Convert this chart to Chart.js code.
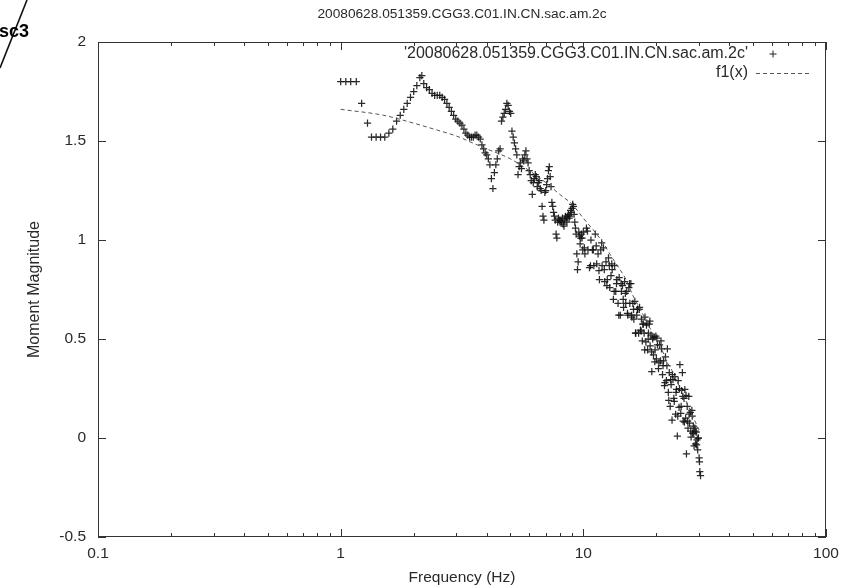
<!DOCTYPE html>
<html>
<head>
<meta charset="utf-8">
<script src="https://cdn.jsdelivr.net/npm/chart.js@4.4.0/dist/chart.umd.min.js"></script>
<style>
html, body { margin: 0; padding: 0; background: #fff; }
</style>
</head>
<body>
<canvas id="myChart" width="863" height="587"></canvas>
<script>
var chartTitle = '20080628.051359.CGG3.C01.IN.CN.sac.am.2c';
var seriesLabels = ["'20080628.051359.CGG3.C01.IN.CN.sac.am.2c'", 'f1(x)'];
var xTitle = 'Frequency (Hz)';
var yTitle = 'Moment Magnitude';
var xTickValues = [0.1, 1, 10, 100];
var yTickValues = [-0.5, 0, 0.5, 1, 1.5, 2];

// measured spectrum (Hz, Mw)
var freq = [
	1.00, 1.05, 1.10, 1.16, 1.22, 1.29, 1.34, 1.40, 1.46, 1.52,
	1.58, 1.64, 1.70, 1.76, 1.82, 1.88, 1.94, 2.00, 2.06, 2.12,
	2.16, 2.20, 2.26, 2.32, 2.38, 2.44, 2.50, 2.56, 2.62, 2.68,
	2.74, 2.80, 2.86, 2.92, 2.98, 3.04, 3.10, 3.16, 3.22, 3.28,
	3.34, 3.40, 3.46, 3.52, 3.58, 3.64, 3.70, 3.76, 3.82, 3.88,
	3.94, 4.00, 4.06, 4.12, 4.18, 4.24, 4.30, 4.36, 4.42, 4.48,
	4.54, 4.60, 4.66, 4.72, 4.78, 4.84, 4.90, 4.96, 5.02, 5.08,
	5.14, 5.20, 5.26, 5.32, 5.38, 5.44, 5.50, 5.56, 5.62, 5.68,
	5.74, 5.80, 5.86, 5.92, 5.98, 6.04, 6.10, 6.16, 6.22, 6.28,
	6.34, 6.40, 6.46, 6.52, 6.58, 6.64, 6.70, 6.76, 6.82, 6.88,
	6.94, 7.00, 7.06, 7.12, 7.18, 7.24, 7.30, 7.36, 7.42, 7.48,
	7.54, 7.60, 7.66, 7.72, 7.78, 7.84, 7.90, 7.96, 8.02, 8.08,
	8.14, 8.20, 8.26, 8.32, 8.38, 8.44, 8.50, 8.56, 8.62, 8.68,
	8.74, 8.80, 8.86, 8.92, 8.98, 9.04, 9.10, 9.16, 9.22, 9.28,
	9.34, 9.40, 9.46, 9.52, 9.58, 9.64, 9.70, 9.76, 9.82, 9.88,
	9.94, 10.00, 10.15, 10.30, 10.45, 10.60, 10.75, 10.90, 11.05, 11.20,
	11.35, 11.50, 11.65, 11.80, 11.95, 12.10, 12.25, 12.40, 12.55, 12.70,
	12.85, 13.00, 13.15, 13.30, 13.45, 13.60, 13.75, 13.90, 14.05, 14.20,
	14.35, 14.50, 14.65, 14.80, 14.95, 15.10, 15.25, 15.40, 15.55, 15.70,
	15.85, 16.00, 16.15, 16.30, 16.45, 16.60, 16.75, 16.90, 17.05, 17.20,
	17.35, 17.50, 17.65, 17.80, 17.95, 18.10, 18.25, 18.40, 18.55, 18.70,
	18.85, 19.00, 19.15, 19.30, 19.45, 19.60, 19.75, 19.90, 20.00, 20.20,
	20.40, 20.60, 20.80, 21.00, 21.20, 21.40, 21.60, 21.80, 22.00, 22.20,
	22.40, 22.60, 22.80, 23.00, 23.20, 23.40, 23.60, 23.80, 24.00, 24.20,
	24.40, 24.60, 24.80, 25.00, 25.20, 25.40, 25.60, 25.80, 26.00, 26.20,
	26.40, 26.60, 26.80, 27.00, 27.20, 27.40, 27.60, 27.80, 28.00, 28.20,
	28.40, 28.60, 28.80, 29.00, 29.20, 29.40, 29.60, 29.80, 30.00, 30.20,
	30.40,
	10.1, 10.4, 10.7, 11.0, 11.3, 11.6, 11.9, 12.2, 12.5, 12.8,
	13.1, 13.4, 13.7, 14.0, 14.3, 14.6, 14.9, 15.2, 15.5, 15.8,
	16.1, 16.4, 16.7, 17.0, 17.3, 17.6, 17.9, 18.2, 18.5, 18.8,
	19.1, 19.4, 19.7, 20.1, 20.5, 20.9, 21.3, 21.7, 22.1, 22.5,
	22.9, 23.3, 23.7, 24.1, 24.5, 24.9, 25.3, 25.7, 26.1, 26.5,
	26.9, 27.3, 27.7, 28.1, 28.5, 28.9, 29.3, 29.7, 30.1
];
var mag = [
	1.80, 1.80, 1.80, 1.80, 1.69, 1.59, 1.52, 1.52, 1.52, 1.52,
	1.54, 1.56, 1.60, 1.63, 1.66, 1.69, 1.72, 1.75, 1.78, 1.82,
	1.83, 1.79, 1.77, 1.76, 1.74, 1.73, 1.73, 1.73, 1.72, 1.71,
	1.69, 1.67, 1.65, 1.63, 1.61, 1.60, 1.59, 1.58, 1.56, 1.54,
	1.53, 1.52, 1.52, 1.52, 1.53, 1.53, 1.52, 1.51, 1.48, 1.46,
	1.44, 1.43, 1.41, 1.38, 1.31, 1.26, 1.34, 1.38, 1.41, 1.45,
	1.46, 1.60, 1.62, 1.64, 1.66, 1.69, 1.68, 1.65, 1.64, 1.55,
	1.52, 1.49, 1.46, 1.43, 1.33, 1.37, 1.39, 1.36, 1.41, 1.40,
	1.43, 1.45, 1.41, 1.39, 1.35, 1.33, 1.30, 1.23, 1.29, 1.31,
	1.33, 1.32, 1.27, 1.29, 1.30, 1.26, 1.25, 1.17, 1.12, 1.10,
	1.24, 1.25, 1.28, 1.31, 1.35, 1.37, 1.32, 1.27, 1.19, 1.17,
	1.14, 1.12, 1.10, 1.03, 1.01, 1.09, 1.11, 1.10, 1.09, 1.10,
	1.09, 1.11, 1.08, 1.07, 1.10, 1.12, 1.11, 1.09, 1.12, 1.13,
	1.11, 1.12, 1.15, 1.14, 1.16, 1.18, 1.17, 1.13, 1.09, 1.06,
	1.03, 0.93, 0.85, 0.89, 1.04, 1.02, 0.98, 1.01, 1.03, 1.01,
	0.95, 1.04, 0.93, 1.06, 0.95, 0.86, 1.00, 0.95, 0.87, 1.03,
	0.88, 0.93, 0.80, 0.95, 0.87, 0.96, 0.79, 0.89, 0.80, 0.91,
	0.76, 0.82, 0.85, 0.70, 0.87, 0.74, 0.80, 0.68, 0.81, 0.62,
	0.74, 0.77, 0.66, 0.79, 0.68, 0.74, 0.62, 0.76, 0.68, 0.78,
	0.61, 0.68, 0.60, 0.69, 0.53, 0.62, 0.65, 0.53, 0.66, 0.545,
	0.60, 0.49, 0.575, 0.53, 0.61, 0.485, 0.58, 0.445, 0.53, 0.575,
	0.465, 0.52, 0.335, 0.50, 0.42, 0.51, 0.445, 0.515, 0.40, 0.47,
	0.35, 0.47, 0.39, 0.45, 0.32, 0.39, 0.265, 0.41, 0.29, 0.45,
	0.23, 0.33, 0.16, 0.27, 0.09, 0.295, 0.20, 0.31, 0.12, 0.245,
	0.01, 0.29, 0.155, 0.37, 0.125, 0.24, 0.33, 0.085, 0.20, 0.245,
	0.10, -0.08, 0.16, 0.05, 0.21, 0.075, 0.13, 0.005, 0.14, 0.025,
	0.06, -0.04, 0.05, -0.03, 0.03, -0.01, -0.06, 0.00, -0.10, -0.17,
	-0.19,
	0.96, 1.045, 0.87, 0.95, 0.97, 0.845, 0.985, 0.85, 0.77, 0.87,
	0.88, 0.74, 0.78, 0.62, 0.78, 0.70, 0.73, 0.63, 0.78, 0.62,
	0.65, 0.53, 0.65, 0.65, 0.54, 0.575, 0.445, 0.57, 0.50, 0.59,
	0.435, 0.51, 0.385, 0.505, 0.38, 0.49, 0.365, 0.28, 0.365, 0.19,
	0.295, 0.32, 0.185, 0.23, 0.11, 0.25, 0.16, 0.21, 0.08, 0.215,
	0.085, 0.12, 0.035, 0.11, 0.025, 0.035, -0.035, 0.00, -0.12
];

// fitted model f1(x)
var fitFreq = [1, 1.5, 2, 2.5, 3, 3.5, 4, 5, 6, 7, 8, 9, 10, 11, 12, 13, 14, 15, 16, 17, 18, 19, 20, 21, 22, 23, 24, 26, 28, 30];
var fitMag  = [1.66, 1.63, 1.59, 1.555, 1.525, 1.49, 1.46, 1.41, 1.35, 1.29, 1.23, 1.18, 1.11, 1.05, 0.99, 0.92, 0.86, 0.80, 0.72, 0.66, 0.60, 0.545, 0.49, 0.45, 0.39, 0.35, 0.30, 0.21, 0.12, 0.04];

var txtColor = '#2a2a2a';
var fontName = '"Liberation Sans", Arial, sans-serif';

// gnuplot style frame with inward ticks on all sides
var framePlugin = {
	id: 'frame',
	afterDatasetsDraw: function(chart) {
		var ctx = chart.ctx;
		var a = chart.chartArea;
		var xs = chart.scales.x, ys = chart.scales.y;
		ctx.save();
		ctx.strokeStyle = '#333';
		ctx.lineWidth = 1;
		ctx.strokeRect(a.left + 0.5, a.top + 0.5, a.right - a.left - 1, a.bottom - a.top - 1);
		ctx.beginPath();
		for (var d = 0; d < xTickValues.length; d++) {
			var dec = xTickValues[d];
			var px = Math.round(xs.getPixelForValue(dec)) + 0.5;
			ctx.moveTo(px, a.bottom); ctx.lineTo(px, a.bottom - 8);
			ctx.moveTo(px, a.top); ctx.lineTo(px, a.top + 8);
			if (d < xTickValues.length - 1) {
				for (var k = 2; k <= 9; k++) {
					var mx = Math.round(xs.getPixelForValue(dec * k)) + 0.5;
					ctx.moveTo(mx, a.bottom); ctx.lineTo(mx, a.bottom - 4);
					ctx.moveTo(mx, a.top); ctx.lineTo(mx, a.top + 4);
				}
			}
		}
		yTickValues.forEach(function(v) {
			var py = Math.round(ys.getPixelForValue(v)) + 0.5;
			ctx.moveTo(a.left, py); ctx.lineTo(a.left + 8, py);
			ctx.moveTo(a.right, py); ctx.lineTo(a.right - 8, py);
		});
		ctx.stroke();

		// key, top right, gnuplot style
		ctx.fillStyle = txtColor;
		ctx.font = '16px ' + fontName;
		ctx.textAlign = 'right';
		ctx.textBaseline = 'middle';
		ctx.fillText(seriesLabels[0], 748, 54);
		ctx.fillText(seriesLabels[1], 748, 73);
		ctx.strokeStyle = '#222';
		Chart.helpers.drawPoint(ctx, {pointStyle: 'cross', radius: 3.5, borderWidth: 1}, 773, 54);
		ctx.strokeStyle = '#555';
		ctx.setLineDash([4, 3]);
		ctx.beginPath();
		ctx.moveTo(756, 73.5); ctx.lineTo(812, 73.5);
		ctx.stroke();
		ctx.setLineDash([]);

		// stray stamp in the top left corner of the original
		ctx.strokeStyle = '#111';
		ctx.lineWidth = 1.6;
		ctx.beginPath();
		ctx.moveTo(27, 0); ctx.lineTo(0, 68);
		ctx.stroke();
		ctx.fillStyle = '#000';
		ctx.font = 'bold 18px ' + fontName;
		ctx.textAlign = 'left';
		ctx.fillText('sc3', -1, 32);
		ctx.restore();
	}
};

var points = freq.map(function(f, i) { return {x: f, y: mag[i]}; });
var fitPoints = fitFreq.map(function(f, i) { return {x: f, y: fitMag[i]}; });

var myChart = new Chart('myChart', {
	type: 'scatter',
	data: {
		datasets: [
			{
				label: seriesLabels[0],
				data: points,
				pointStyle: 'cross',
				pointRadius: 3.6,
				pointBorderWidth: 1.25,
				borderColor: 'rgba(20,20,20,0.9)',
				backgroundColor: 'rgba(20,20,20,0.9)',
				order: 2
			},
			{
				type: 'line',
				label: seriesLabels[1],
				data: fitPoints,
				showLine: true,
				pointRadius: 0,
				borderColor: '#555',
				borderWidth: 1,
				borderDash: [4, 3],
				cubicInterpolationMode: 'monotone',
				fill: false,
				order: 1
			}
		]
	},
	options: {
		responsive: false,
		animation: false,
		devicePixelRatio: 1,
		layout: { padding: { left: 0, right: 37, top: 0, bottom: 0 } },
		plugins: {
			legend: { display: false },
			tooltip: { enabled: false },
			title: {
				display: true,
				fullSize: false,
				text: chartTitle,
				color: txtColor,
				font: { family: fontName, size: 13.7, weight: 'normal' },
				padding: { top: 6, bottom: 19.56 }
			}
		},
		scales: {
			x: {
				type: 'logarithmic',
				min: 0.1,
				max: 100,
				afterBuildTicks: function(s) { s.ticks = xTickValues.map(function(v) { return {value: v}; }); },
				afterFit: function(s) { s.height = 50; s.paddingLeft = 0; s.paddingRight = 0; },
				grid: { display: false, drawTicks: false },
				border: { display: false },
				ticks: {
					padding: 7,
					color: txtColor,
					font: { family: fontName, size: 15.5 },
					maxRotation: 0,
					autoSkip: false,
					callback: function(v) { return String(v); }
				},
				title: {
					display: true,
					text: xTitle,
					color: txtColor,
					font: { family: fontName, size: 15.5 },
					padding: { top: 0, bottom: 0 }
				}
			},
			y: {
				min: -0.5,
				max: 2,
				afterBuildTicks: function(s) { s.ticks = yTickValues.map(function(v) { return {value: v}; }); },
				afterFit: function(s) { s.width = 98; s.paddingTop = 0; s.paddingBottom = 0; },
				grid: { display: false, drawTicks: false },
				border: { display: false },
				ticks: {
					padding: 12,
					color: txtColor,
					font: { family: fontName, size: 15.5 },
					callback: function(v) { return String(v); }
				},
				title: {
					display: true,
					text: yTitle,
					color: txtColor,
					font: { family: fontName, size: 16 },
					padding: { top: 25.4, bottom: 0 }
				}
			}
		}
	},
	plugins: [framePlugin]
});
</script>
</body>
</html>
